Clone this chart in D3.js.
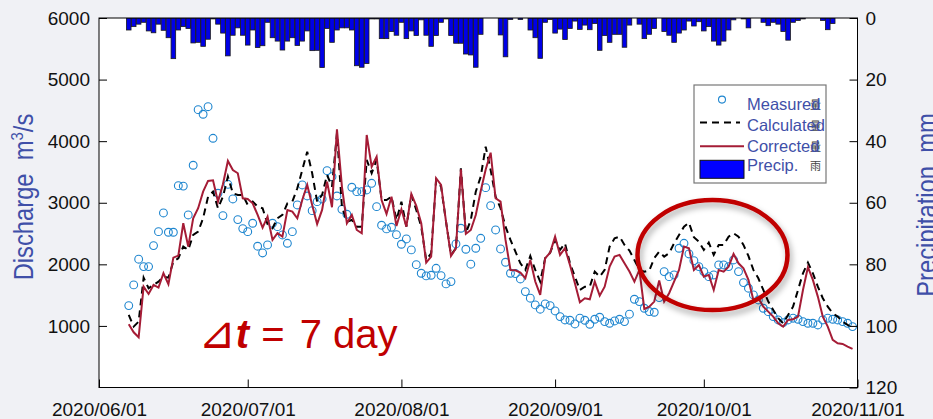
<!DOCTYPE html>
<html>
<head>
<meta charset="utf-8">
<script src="https://cdn.jsdelivr.net/npm/d3@7"></script>
<style>
body { margin: 0; background: #f0f1f5; }
svg { display: block; font-family: "Liberation Sans", Arial, sans-serif; }
</style>
</head>
<body>
<svg id="chart" width="933" height="419"></svg>
<script>
// daily series, 2020/06/07 .. 2020/10/31
var startDay = "2020/06/07";

var measured = [1330,1666,2083,1963,1963,2304,2531,2834,2521,2521,3278,3270,2802,3609,4512,4437,4560,4047,3154,2791,3300,3062,2726,2580,2531,2667,2294,2185,2315,2667,2612,2477,
  2342,2531,2964,3289,3110,2872,3018,3062,3521,3424,3110,2894,2813,3252,3180,3180,3208,3316,2937,2635,2575,2602,2482,2326,2412,2234,1995,1855,1812,1823,1936,1817,1682,1720,2331,2586,2245,2002,2261,2423,
  3245,2953,2558,2250,2034,1855,1850,1763,1557,1450,1341,1271,1357,1330,1243,1151,1097,1092,1032,1125,1092,1027,1108,1141,1070,1043,1081,1108,1070,1190,1433,1395,1287,1233,1222,1460,1882,1800,
  1828,2261,2342,2169,2060,1963,1882,1800,1828,1990,1990,1963,2071,1882,1703,1612,1503,1422,1287,1232,1151,1097,1054,1097,1125,1108,1070,1043,1043,1016,1097,1125,1108,1097,1070,1043,989];

var calculated = [1179,989,1070,1784,1612,1666,1719,1800,1784,2044,2099,2288,2234,2477,2531,2748,3099,3180,2911,3099,3424,3154,3127,3127,2964,3018,2937,2911,2651,2586,2748,2802,2990,
  3018,3235,3532,3830,3479,3018,3127,3451,3262,4128,2937,2693,2721,2612,2612,3695,3479,3695,3045,3045,3099,2721,3018,2612,3127,2883,2612,2071,2180,3370,3262,2693,2153,2261,3560,2505,2721,3180,
  3424,3911,
  3532,3099,2911,2612,2396,2206,2017,1909,2136,1909,1720,2099,2190,2396,2234,2342,2017,1800,1584,1638,1638,1882,1800,1909,2288,2423,2450,2315,2223,2071,1909,1880,1900,2100,2206,2125,2180,
  2342,2477,2612,2677,2440,2369,2234,2353,2153,2315,2315,2450,2505,2450,2315,2136,1909,1774,1584,1395,1260,1125,1043,1179,1313,1584,1855,2028,1855,1638,1450,1313,1206,1151,1070,1016,979];

var corrected = [1027,897,816,1638,1519,1666,1622,1855,1677,2109,2141,2667,2288,2748,2911,3180,3354,3365,3018,3300,3679,3532,3479,3073,3062,2991,2802,2596,2775,2396,2505,2450,2883,
  2856,2748,3045,3289,2964,2653,2883,3343,2927,4193,3262,2667,2802,2558,2505,4101,3586,3748,3045,2818,3099,2623,2894,2612,3143,2948,2667,2028,2125,3398,3289,2693,2136,2261,3544,2494,2558,2800,
  3190,3540,3813,
  3073,3018,2396,1909,1904,1866,1774,2071,1720,1503,2099,2190,2450,2153,2261,1990,1693,1385,1450,1433,1720,1492,1638,1963,2125,2153,2017,1882,1720,1909,1276,1313,1395,1736,1395,1531,
  1720,1909,2288,2261,1909,1990,1800,1828,1584,1909,1882,1963,2169,2017,1936,1747,1422,1450,1313,1232,1151,1043,989,1097,1108,1151,1584,1953,1747,1476,1151,989,773,719,708,664,627];

var precip = [3.9,2.8,2,1.4,4.2,4.8,2,4,6.4,13.2,3.9,2.8,3.4,8.1,7.9,9.2,6.9,0.3,2,4.9,
  12.3,5.6,3.2,5.6,8.8,3.9,9.6,9,1.4,6.4,7.5,10.4,7.5,6.4,8.9,7.5,4.2,10.6,10.5,16.1,
  3.4,7.9,3.9,3.2,3.2,3.9,15.5,16,14.8,0.3,0.3,6.7,6.7,4.4,5.6,1.4,6.7,4.2,5.7,0.6,
  5.6,9.2,5.7,1.4,0.3,5.7,8.2,8.2,11.7,12,16,
  5.3,0,0,0,5.5,12.6,0.5,0,0.5,0,3.9,6.4,13.1,1.4,0.5,4.9,3.6,7,3.4,1,
  3.7,2.3,3.8,1.8,10.5,5.7,7.9,5.3,5.3,9.5,2.3,0,2,6.7,5.3,3.4,0,4.4,5.6,7.9,
  4.9,3.9,1,2.6,1.2,4.2,2.8,7.5,8.8,7.5,3.9,0.6,0,0.3,3.2,0,0,1.4,2.5,1.4,
  2,4.4,7.2,1.4,0.8,0.3,0,0,0,0.8,3.8,1.8,0,0,0,0];

var xTicks = ["2020/06/01", "2020/07/01", "2020/08/01", "2020/09/01", "2020/10/01", "2020/11/01"];
var qTicks = [1000, 2000, 3000, 4000, 5000, 6000];
var pTicks = [0, 20, 40, 60, 80, 100, 120];
var legendLabels = ["Measured", "Calculated", "Corrected", "Precip."];
var legendHidden = ["量", "量", "量", "雨"];

var plotL = 99, plotR = 857.5, plotT = 18, plotB = 387.5;
var blue = "#3f4fa8", redLine = "#a51c36", circleBlue = "#1f86cf";

var svg = d3.select("#chart");
var parse = d3.timeParse("%Y/%m/%d");
var start = parse(startDay);
var days = measured.map(function(d, i) { return d3.timeDay.offset(start, i); });

var x = d3.scaleTime()
    .domain([parse(xTicks[0]), parse(xTicks[xTicks.length - 1])])
    .range([plotL, plotR]);
var yQ = d3.scaleLinear().domain([0, 6000]).range([plotB, plotT]);
var yP = d3.scaleLinear().domain([0, 120]).range([plotT, plotB]);

var defs = svg.append("defs");
defs.append("clipPath").attr("id", "plot")
  .append("rect").attr("x", plotL).attr("y", plotT).attr("width", plotR - plotL).attr("height", plotB - plotT);
defs.append("filter").attr("id", "shadow").attr("x", "-20%").attr("y", "-20%").attr("width", "140%").attr("height", "150%")
  .append("feDropShadow").attr("dx", 2).attr("dy", 4).attr("stdDeviation", 3)
    .attr("flood-color", "#000").attr("flood-opacity", 0.35);

svg.append("rect")
    .attr("x", plotL).attr("y", plotT)
    .attr("width", plotR - plotL).attr("height", plotB - plotT)
    .attr("fill", "#fff");

var plot = svg.append("g").attr("clip-path", "url(#plot)");

// precipitation hanging from the top
plot.append("g")
  .selectAll("rect")
  .data(precip.map(function(p, i) { return {date: days[i], p: p}; }).filter(function(d) { return d.p > 0; }))
  .join("rect")
    .attr("x", function(d) { return x(d.date) - 2.3; })
    .attr("y", yP(0))
    .attr("width", 4.6)
    .attr("height", function(d) { return yP(d.p) - yP(0); })
    .attr("fill", "#0000e6")
    .attr("stroke", "#1a1a1a")
    .attr("stroke-width", 0.8);

var line = d3.line()
    .x(function(d, i) { return x(days[i]); })
    .y(function(d) { return yQ(d); });

plot.append("g")
  .selectAll("circle")
  .data(measured)
  .join("circle")
    .attr("cx", function(d, i) { return x(days[i]); })
    .attr("cy", function(d) { return yQ(d); })
    .attr("r", 3.9)
    .attr("fill", "none")
    .attr("stroke", circleBlue)
    .attr("stroke-width", 1.1);

plot.append("path")
    .datum(calculated)
    .attr("d", line)
    .attr("fill", "none")
    .attr("stroke", "#000")
    .attr("stroke-width", 2)
    .attr("stroke-dasharray", "7,5");

plot.append("path")
    .datum(corrected)
    .attr("d", line)
    .attr("fill", "none")
    .attr("stroke", redLine)
    .attr("stroke-width", 2);

// highlight ring round October
svg.append("ellipse")
    .attr("cx", x(new Date(2020, 9, 2, 18)))
    .attr("cy", yQ(2150))
    .attr("rx", 75)
    .attr("ry", 55)
    .attr("fill", "none")
    .attr("stroke", "#c00000")
    .attr("stroke-width", 4.5)
    .attr("filter", "url(#shadow)");

// axes, ticks pointing inward
var xAxis = svg.append("g")
    .attr("transform", "translate(0," + plotB + ")")
    .call(d3.axisBottom(x)
        .tickValues(xTicks.map(parse))
        .tickFormat(d3.timeFormat("%Y/%m/%d"))
        .tickSize(-8).tickSizeOuter(0)
        .tickPadding(15));

var qAxis = svg.append("g")
    .attr("transform", "translate(" + plotL + ",0)")
    .call(d3.axisLeft(yQ)
        .tickValues(qTicks)
        .tickFormat(d3.format("d"))
        .tickSize(-8).tickSizeOuter(0)
        .tickPadding(9));

var pAxis = svg.append("g")
    .attr("transform", "translate(" + plotR + ",0)")
    .call(d3.axisRight(yP)
        .tickValues(pTicks)
        .tickSize(-8).tickSizeOuter(0)
        .tickPadding(8));

[xAxis, qAxis, pAxis].forEach(function(g) {
  g.select(".domain").remove();
  g.selectAll("line").attr("stroke", "#000");
  g.selectAll("text")
    .attr("font-family", "'Liberation Sans', Arial, sans-serif")
    .attr("font-size", 19)
    .attr("fill", "#111");
});

svg.append("rect")
    .attr("x", plotL).attr("y", plotT)
    .attr("width", plotR - plotL).attr("height", plotB - plotT)
    .attr("fill", "none")
    .attr("stroke", "#000")
    .attr("stroke-width", 1);

// axis titles (narrow, tall lettering like the original)
var qTitle = svg.append("text")
    .attr("transform", "translate(33,197) rotate(-90) scale(0.88,1)")
    .attr("text-anchor", "middle")
    .attr("font-size", 27)
    .attr("fill", blue);
qTitle.append("tspan").text("Discharge\u00a0\u00a0m");
qTitle.append("tspan").attr("dy", -10).attr("font-size", 17).text("3");
qTitle.append("tspan").attr("dy", 10).text("/s");

svg.append("text")
    .attr("transform", "translate(936,205) rotate(-90) scale(0.88,1)")
    .attr("text-anchor", "middle")
    .attr("font-size", 27)
    .attr("fill", blue)
    .text("Precipitation\u00a0\u00a0mm");

// legend
var legend = svg.append("g").attr("transform", "translate(694,85)");
legend.append("rect")
    .attr("width", 132).attr("height", 98)
    .attr("fill", "#fff")
    .attr("stroke", "#777")
    .attr("stroke-width", 1.2);

var symY = [14.6, 37.6, 61.3, 84.3];
var textY = [24.5, 46, 67, 85.5];
legend.selectAll(".hid")
  .data(legendHidden)
  .join("text")
    .attr("class", "hid")
    .attr("x", 116)
    .attr("y", function(d, i) { return textY[i] - 1; })
    .attr("font-family", "'Noto Sans CJK SC', sans-serif")
    .attr("font-size", 11)
    .attr("fill", "#444")
    .text(function(d) { return d; });

legend.append("circle")
    .attr("cx", 28).attr("cy", symY[0])
    .attr("r", 3.5)
    .attr("fill", "none").attr("stroke", circleBlue).attr("stroke-width", 1.1);
legend.append("line")
    .attr("x1", 6).attr("x2", 46).attr("y1", symY[1]).attr("y2", symY[1])
    .attr("stroke", "#000").attr("stroke-width", 2).attr("stroke-dasharray", "7,5");
legend.append("line")
    .attr("x1", 6).attr("x2", 50).attr("y1", symY[2]).attr("y2", symY[2])
    .attr("stroke", redLine).attr("stroke-width", 2);
legend.append("rect")
    .attr("x", 6).attr("y", symY[3] - 9).attr("width", 44).attr("height", 18)
    .attr("fill", "#0000ff").attr("stroke", "#111").attr("stroke-width", 1);

legend.selectAll(".lab")
  .data(legendLabels)
  .join("text")
    .attr("class", "lab")
    .attr("x", 53)
    .attr("y", function(d, i) { return textY[i]; })
    .attr("font-size", 16.5)
    .attr("fill", blue)
    .text(function(d) { return d; });

// time-step note
var note = svg.append("text")
    .attr("x", 198)
    .attr("y", 348)
    .attr("font-size", 40)
    .attr("fill", "#c00000");
note.append("tspan").attr("font-family", "'DejaVu Sans', sans-serif").attr("font-size", 45).text("\u22BF");
note.append("tspan").attr("font-style", "italic").attr("font-weight", "bold").text("t");
note.append("tspan").attr("dx", 1).text(" =");
note.append("tspan").attr("dx", 4).text(" 7 day");
</script>
</body>
</html>
